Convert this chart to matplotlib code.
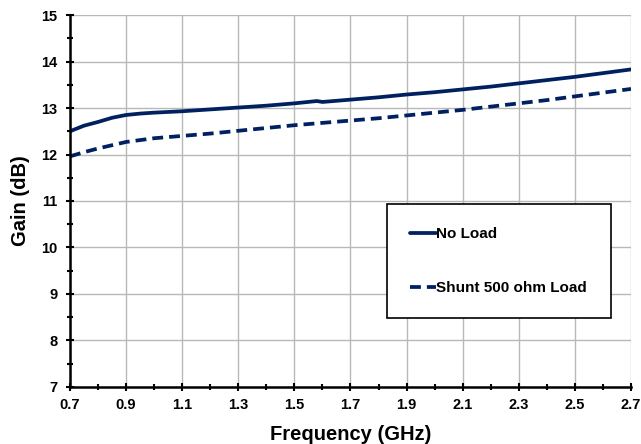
import matplotlib
matplotlib.use('Agg')
from matplotlib import pyplot as plt
from matplotlib.ticker import MultipleLocator
import numpy as np

plt.rcParams['font.family'] = ['Liberation Sans', 'DejaVu Sans']
plt.rcParams['font.weight'] = 'bold'

# data
freq = [0.70, 0.75, 0.80, 0.85, 0.90, 0.95, 1.00, 1.10, 1.20, 1.30, 1.40, 1.50,
        1.58, 1.60, 1.70, 1.80, 1.90, 2.00, 2.10, 2.20, 2.30, 2.40, 2.50, 2.60, 2.70]
gain_noload = [12.50, 12.62, 12.70, 12.79, 12.85, 12.88, 12.90, 12.93, 12.97, 13.01, 13.05, 13.10,
               13.15, 13.13, 13.18, 13.23, 13.29, 13.34, 13.40, 13.46, 13.53, 13.60, 13.67, 13.75, 13.83]
freq_shunt = [0.70, 0.75, 0.80, 0.85, 0.90, 0.95, 1.00, 1.10, 1.20, 1.30, 1.40, 1.50,
              1.60, 1.70, 1.80, 1.90, 2.00, 2.10, 2.20, 2.30, 2.40, 2.50, 2.60, 2.70]
gain_shunt = [11.96, 12.05, 12.13, 12.20, 12.27, 12.31, 12.35, 12.40, 12.45, 12.51, 12.57, 12.63,
              12.68, 12.73, 12.78, 12.84, 12.90, 12.96, 13.03, 13.10, 13.17, 13.25, 13.33, 13.41]
xticks = [0.7, 0.9, 1.1, 1.3, 1.5, 1.7, 1.9, 2.1, 2.3, 2.5, 2.7]

navy = '#002060'

fig = plt.figure(figsize=(6.41, 4.44), dpi=100)
ax = fig.add_axes([0.1092, 0.1284, 0.8752, 0.8378])

ax.plot(freq, gain_noload, color=navy, lw=2.7, label='No Load', solid_capstyle='round')
ax.plot(freq_shunt, gain_shunt, color=navy, lw=2.7, ls=(0, (2.9, 1.6)), label='Shunt 500 ohm Load')

ax.set_xlim(0.7, 2.7)
ax.set_ylim(7, 15)
ax.set_xticks(xticks)
ax.set_xticklabels(['%.1f' % v for v in xticks])
ax.xaxis.set_minor_locator(MultipleLocator(0.1))
ax.yaxis.set_major_locator(MultipleLocator(1))
ax.yaxis.set_minor_locator(MultipleLocator(0.5))
ax.grid(True, which='major', color='#b8b8b8', lw=1.0)
ax.set_axisbelow(True)

for s in ['top', 'right']:
    ax.spines[s].set_visible(False)
for s in ['left', 'bottom']:
    ax.spines[s].set_linewidth(1.8)
ax.tick_params(which='both', direction='inout', width=1.5, labelsize=10.5)
ax.tick_params(which='major', length=6)
ax.tick_params(which='minor', length=5)
ax.tick_params(axis='x', pad=5)
ax.tick_params(axis='y', pad=6)

ax.set_xlabel('Frequency (GHz)', fontsize=14.5, fontweight='bold', labelpad=9)
ax.set_ylabel('Gain (dB)', fontsize=14.5, fontweight='bold', labelpad=8)

leg = ax.legend(loc='upper left', bbox_to_anchor=(0.565, 0.196, 0.399, 0.296), mode='expand',
                fancybox=False, edgecolor='black', framealpha=1, fontsize=11, handlelength=1.7,
                handletextpad=0.0, labelspacing=2.65, borderpad=1.5, borderaxespad=0)
leg.get_frame().set_linewidth(1.2)
for t in leg.get_texts():
    t.set_fontweight('bold')

plt.savefig('out.png', dpi=100)
